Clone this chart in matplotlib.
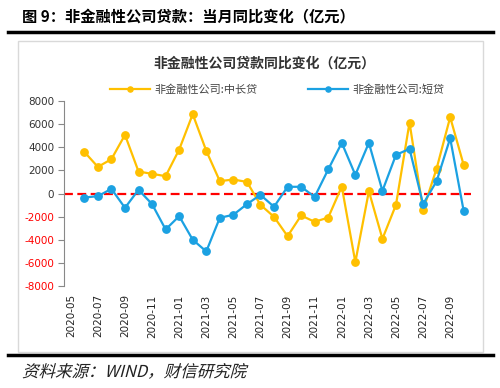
import numpy as np
import matplotlib.pyplot as plt
from matplotlib.patches import Rectangle, PathPatch
from matplotlib.textpath import TextPath
from matplotlib.font_manager import FontProperties
from matplotlib.transforms import Affine2D

plt.rcParams['font.family'] = ['Noto Sans CJK SC', 'DejaVu Sans']

# -----------------------------
# data (亿元), months 2020-05 .. 2022-10, 2020-05 empty
# -----------------------------
months = ["2020-05", "2020-06", "2020-07", "2020-08", "2020-09", "2020-10",
          "2020-11", "2020-12", "2021-01", "2021-02", "2021-03", "2021-04",
          "2021-05", "2021-06", "2021-07", "2021-08", "2021-09", "2021-10",
          "2021-11", "2021-12", "2022-01", "2022-02", "2022-03", "2022-04",
          "2022-05", "2022-06", "2022-07", "2022-08", "2022-09", "2022-10"]

long_loan = [np.nan, 3600, 2300, 2970, 5070, 1900, 1700, 1500, 3800, 6860,
             3690, 1070, 1210, 1000, -980, -2020, -3690, -1900, -2450, -2080,
             600, -5940, 200, -3920, -980, 6140, -1440, 2160, 6600, 2450]

short_loan = [np.nan, -350, -230, 400, -1240, 320, -920, -3110, -1960, -4000,
              -5010, -2100, -1840, -920, -120, -1150, 580, 580, -290, 2080,
              4380, 1610, 4380, 230, 3340, 3860, -920, 1070, 4780, -1530]

yticks = [-8000, -6000, -4000, -2000, 0, 2000, 4000, 6000, 8000]

c_long = "#FFC000"
c_short = "#1BA1E2"

W, H = 500, 388
fig = plt.figure(figsize=(5, 3.88), dpi=100)


def fx(px):
    return px / W


def fy(py):
    return 1 - py / H


# header / footer
fig.text(fx(22), fy(16), "图 9：非金融性公司贷款：当月同比变化（亿元）",
         fontsize=11, fontweight="bold", va="center", ha="left")
fig.add_artist(plt.Line2D([fx(8), fx(493)], [fy(32), fy(32)], color="black", lw=2.5))
fig.add_artist(plt.Line2D([fx(8), fx(493)], [fy(355), fy(355)], color="black", lw=2.5))
fig.add_artist(Rectangle((fx(18), fy(352)), fx(465), (352 - 41) / H,
                         fill=False, ec="#D9D9D9", lw=1.0))

# italic footer: skewed text path, units = pixels
tp = TextPath((0, 0), "资料来源：WIND，财信研究院",
              prop=FontProperties(family="Noto Sans CJK SC"), size=16.5)
skew = Affine2D().skew_deg(15, 0).translate(22, H - 377).scale(1.0 / W, 1.0 / H)
fig.add_artist(PathPatch(tp, transform=skew + fig.transFigure, fc="#222222", ec="none"))

# plot area
ax = fig.add_axes([fx(64), fy(286), (470.5 - 64) / W, (286 - 101) / H])
x = np.arange(len(months))
ax.plot(x, long_loan, color=c_long, lw=1.6, marker="o", ms=5.3, label="非金融性公司:中长贷")
ax.plot(x, short_loan, color=c_short, lw=1.6, marker="o", ms=5.3, label="非金融性公司:短贷")
ax.axhline(0, color="#FF0000", lw=1.6, ls=(0, (4, 2)), zorder=1)

ax.set_xlim(-0.5, len(months) - 0.5)
ax.set_ylim(-8000, 8000)
ax.set_yticks(yticks)
ax.set_yticklabels([str(v) for v in yticks], fontsize=7.5, family="DejaVu Sans")
for lab, v in zip(ax.get_yticklabels(), yticks):
    lab.set_color("#FF0000" if v < 0 else "#333333")
ax.set_xticks(x[::2])
ax.set_xticklabels(months[::2], rotation=90, fontsize=7.5, family="DejaVu Sans", color="#222222")
ax.tick_params(axis="x", length=0, pad=6)
ax.tick_params(axis="y", length=4, color="#888888", pad=3)
for s in ["top", "right", "bottom"]:
    ax.spines[s].set_visible(False)
ax.spines["left"].set_color("#888888")
ax.patch.set_alpha(0)

fig.text(fx(264), fy(64), "非金融性公司贷款同比变化（亿元）", fontsize=10,
         fontweight="bold", ha="center", va="center", color="#333333")
fig.legend(loc="center left", bbox_to_anchor=(fx(100), fy(90)), ncol=2, frameon=False,
           fontsize=8, handlelength=3.6, columnspacing=4.5, handletextpad=0.4,
           markerscale=0.7, labelcolor="#444444")

fig.savefig("out.png", dpi=100)
